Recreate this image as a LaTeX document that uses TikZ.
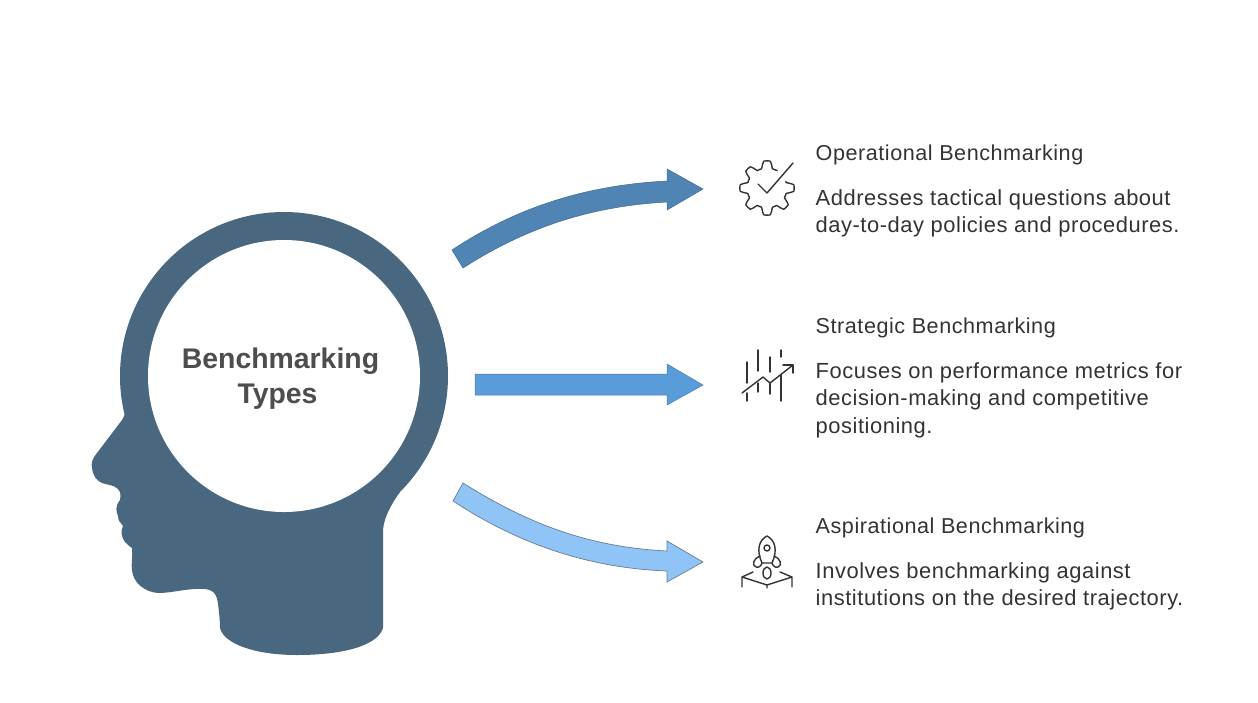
\documentclass[tikz,border=0pt]{standalone}
\usepackage{fontspec}
\setmainfont{Liberation Sans}
\newfontfamily\labelfont[LetterSpace=2.5]{Liberation Sans}
\definecolor{headblue}{HTML}{4A6780}
\definecolor{arrowA}{HTML}{5084B5}
\definecolor{arrowB}{HTML}{5A9BD9}
\definecolor{arrowC}{HTML}{90C4F6}
\definecolor{inkdark}{HTML}{333333}
\definecolor{titlegray}{HTML}{4D4D4D}
\tikzset{
  bigarrow/.style={draw=#1!80!black,line width=0.5pt,fill=#1,line join=miter},
  heading/.style={anchor=north west,inner sep=0pt,font=\labelfont\fontsize{21.6}{27.5}\selectfont,text=inkdark},
  bodytext/.style={anchor=north west,inner sep=0pt,align=left,font=\labelfont\fontsize{21.9}{27.5}\selectfont,text=inkdark},
  iconline/.style={draw=inkdark,line width=1.4pt,line cap=round,line join=round,fill=none},
}
\begin{document}
\begin{tikzpicture}[x=1pt,y=-1pt]
\useasboundingbox (0,0) rectangle (1258,702);
% head silhouette
\fill[headblue] (284,376) circle[radius=164];
\fill[headblue] (125,400) .. controls (126,404) and (128,408) .. (126,411)
  .. controls (125,415) and (123,418) .. (122,420) -- (97,453)
  .. controls (92,459) and (91,464) .. (92,468)
  .. controls (93,476) and (97,481) .. (102,483)
  .. controls (108,485) and (114,485) .. (118,489)
  .. controls (122,493) and (120,498) .. (120,500)
  .. controls (115,506) and (116,512) .. (118,516)
  .. controls (118,521) and (121,523) .. (123,526)
  .. controls (120,532) and (122,538) .. (125,542)
  .. controls (128,545) and (130,547) .. (132,548)
  .. controls (133,555) and (131,562) .. (132,570)
  .. controls (133,583) and (145,592) .. (158,593)
  .. controls (173,593) and (188,588) .. (203,589)
  .. controls (212,589) and (217,593) .. (218,604)
  .. controls (219,612) and (220,620) .. (220,628)
  .. controls (224,644) and (255,655) .. (297,655)
  .. controls (345,655) and (378,645) .. (383,628)
  -- (383,530)
  .. controls (384,518) and (390,506) .. (400,492)
  -- (300,400) -- cycle;
\node[circle,fill=white,minimum size=272pt,inner sep=0pt] (centre) at (284,376) {};
\node[align=center,inner sep=0pt,font=\bfseries\fontsize{28.4}{35.5}\selectfont,text=titlegray]
  (title) at (280.5,378.5) {Benchmarking\\\hspace*{-6pt}Types};
% curved and straight arrows
\path[bigarrow=arrowA] (452,250) .. controls (520,205) and (590,185) .. (667,181)
  -- (667,169) -- (703,189) -- (667,210) -- (667,202)
  .. controls (595,206) and (530,225) .. (463,268) -- cycle;
\path[bigarrow=arrowB] (475,374) -- (667,374) -- (667,364) -- (703,385) -- (667,405)
  -- (667,395) -- (475,395) -- cycle;
\path[fill=arrowC,draw=headblue!85,line width=0.7pt] (463,483) .. controls (530,525) and (590,547) .. (667,551)
  -- (667,541) -- (703,562) -- (667,582) -- (667,571)
  .. controls (590,568) and (520,545) .. (453,501) -- cycle;
% gear with check mark
\draw[iconline] plot[smooth,domain=60:379,samples=200,variable=\t]
  ({767+(23.5+3.6*max(-1,min(1,1.7*cos(8*\t))))*cos(\t)},{188-(23.5+3.6*max(-1,min(1,1.7*cos(8*\t))))*sin(\t)});
\draw[iconline] (758,184) -- (767,193) -- (793,163);
% rising chart
\draw[iconline] (747,362) -- (747,383) (747,393) -- (747,401)
  (758,350) -- (758,371) (758,383) -- (758,392)
  (770,357) -- (770,372) (770,383) -- (770,394)
  (781,350) -- (781,357) (781,375) -- (781,401);
\draw[iconline] (742,393) -- (763,377) -- (770,383) -- (793,365);
\draw[iconline] (783,365) -- (793,365) -- (793,373);
% rocket over a platform
\draw[iconline] (767,536) .. controls (759,540) and (756,550) .. (762,563) -- (772,563)
  .. controls (778,550) and (775,540) .. (767,536) -- cycle;
\draw[iconline] (767,548) circle[radius=3];
\draw[iconline] (760,556) .. controls (754,558) and (751,565) .. (756,567) .. controls (759,568) and (761,566) .. (762,563);
\draw[iconline] (774,556) .. controls (780,558) and (783,565) .. (778,567) .. controls (775,568) and (773,566) .. (772,563);
\draw[iconline] (767,573) ellipse[x radius=4,y radius=6];
\draw[iconline] (742,587) -- (742,577) -- (753,572) (742,577) -- (767,585) -- (792,577) -- (780,572)
  (792,577) -- (792,587) (767,585) -- (767,588);
% text blocks
\node[heading] (h1) at (815.5,145) {Operational Benchmarking};
\node[bodytext] (b1) at (815.5,189) {Addresses tactical questions about\\day-to-day policies and procedures.};
\node[heading] (h2) at (815.5,318) {Strategic Benchmarking};
\node[bodytext] (b2) at (815.5,362) {Focuses on performance metrics for\\decision-making and competitive\\positioning.};
\node[heading] (h3) at (815.5,518) {Aspirational Benchmarking};
\node[bodytext] (b3) at (815.5,562) {Involves benchmarking against\\institutions on the desired trajectory.};
\end{tikzpicture}
\end{document}
